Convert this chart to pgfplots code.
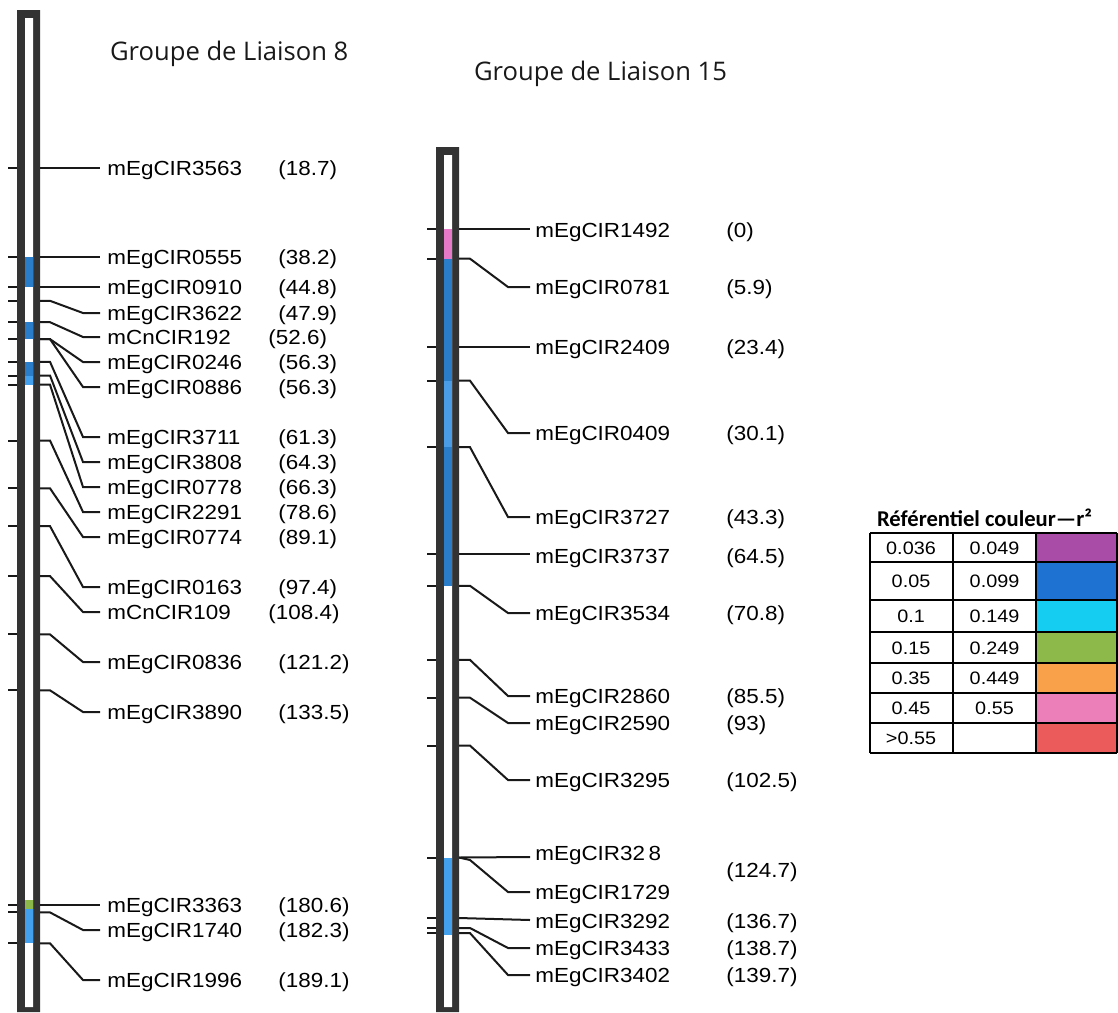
\documentclass[border=0pt]{standalone}
\usepackage{pgfplots}
\pgfplotsset{compat=1.18}
\usepackage{fontspec}
\setmainfont{Liberation Sans}
\newfontfamily\lab[FakeStretch=1.1]{Liberation Sans}
\newfontfamily\ttl{Open Sans}
\newfontfamily\leg{Carlito}
\definecolor{chrom}{HTML}{333333}
\definecolor{dblue}{HTML}{2A7DC8}
\definecolor{lblue}{HTML}{42A0EC}
\definecolor{mblue}{HTML}{4A9CE6}
\definecolor{cgreen}{HTML}{8DB84A}
\definecolor{cpink}{HTML}{E77AC8}
\definecolor{lpurple}{HTML}{A84CA8}
\definecolor{lblue2}{HTML}{1E73D2}
\definecolor{lcyan}{HTML}{14CDF0}
\definecolor{lgreen}{HTML}{8DB84A}
\definecolor{lorange}{HTML}{F9A04A}
\definecolor{lpink}{HTML}{EC7FBA}
\definecolor{lred}{HTML}{EB5B5B}
\pgfplotsset{mk/.style={black!90, line width=1pt}, gl/.style={black, line width=0.8pt}}
\newcommand{\mlab}{\lab\fontsize{10.2}{11}\selectfont}
\newcommand{\clab}{\lab\fontsize{9}{10}\selectfont}
\begin{document}
\begin{tikzpicture}
\begin{axis}[width=559pt, height=506pt, scale only axis, xmin=0, xmax=1118, ymin=0, ymax=1012, y dir=reverse, hide axis, clip=false]
\addplot[draw=none] coordinates {(0,0) (1118,1012)};
% ---------- chromosome LG8 ----------
\addplot[fill=chrom, draw=none] coordinates {(17,10) (40,10) (40,1012) (17,1012) (17,10)};
\addplot[fill=white, draw=none] coordinates {(25,18) (33,18) (33,1007) (25,1007) (25,18)};
\addplot[fill=dblue, draw=none] coordinates {(25,256.7) (33,256.7) (33,286.7) (25,286.7)};
\addplot[fill=dblue, draw=none] coordinates {(25,322.2) (33,322.2) (33,339.1) (25,339.1)};
\addplot[fill=dblue, draw=none] coordinates {(25,361.8) (33,361.8) (33,375.5) (25,375.5)};
\addplot[fill=lblue, draw=none] coordinates {(25,375.5) (33,375.5) (33,384.6) (25,384.6)};
\addplot[fill=cgreen, draw=none] coordinates {(25,900) (33,900) (33,909) (25,909)};
\addplot[fill=lblue, draw=none] coordinates {(25,909) (33,909) (33,943.3) (25,943.3)};
% ---------- chromosome LG15 ----------
\addplot[fill=chrom, draw=none] coordinates {(436,147) (459,147) (459,1012) (436,1012) (436,147)};
\addplot[fill=white, draw=none] coordinates {(444,155) (452,155) (452,1007) (444,1007) (444,155)};
\addplot[fill=cpink, draw=none] coordinates {(444,229) (452,229) (452,258.7) (444,258.7)};
\addplot[fill=dblue, draw=none] coordinates {(444,258.7) (452,258.7) (452,380.7) (444,380.7)};
\addplot[fill=mblue, draw=none] coordinates {(444,380.7) (452,380.7) (452,447.2) (444,447.2)};
\addplot[fill=dblue, draw=none] coordinates {(444,447.2) (452,447.2) (452,585.8) (444,585.8)};
\addplot[fill=lblue, draw=none] coordinates {(444,857.5) (452,857.5) (452,935) (444,935)};
% ---------- LG8 left ticks ----------
\addplot[mk] coordinates {(8,168.0) (17,168.0)};
\addplot[mk] coordinates {(8,256.7) (17,256.7)};
\addplot[mk] coordinates {(8,286.7) (17,286.7)};
\addplot[mk] coordinates {(8,300.8) (17,300.8)};
\addplot[mk] coordinates {(8,322.2) (17,322.2)};
\addplot[mk] coordinates {(8,339.1) (17,339.1)};
\addplot[mk] coordinates {(8,361.8) (17,361.8)};
\addplot[mk] coordinates {(8,375.5) (17,375.5)};
\addplot[mk] coordinates {(8,384.6) (17,384.6)};
\addplot[mk] coordinates {(8,440.5) (17,440.5)};
\addplot[mk] coordinates {(8,488.3) (17,488.3)};
\addplot[mk] coordinates {(8,526.1) (17,526.1)};
\addplot[mk] coordinates {(8,576.1) (17,576.1)};
\addplot[mk] coordinates {(8,634.4) (17,634.4)};
\addplot[mk] coordinates {(8,690.3) (17,690.3)};
\addplot[mk] coordinates {(8,904.6) (17,904.6)};
\addplot[mk] coordinates {(8,912.4) (17,912.4)};
\addplot[mk] coordinates {(8,943.3) (17,943.3)};
% ---------- LG8 connectors ----------
\addplot[mk] coordinates {(40,168.0) (100,168.0)};
\addplot[mk] coordinates {(40,256.7) (100,256.7)};
\addplot[mk] coordinates {(40,286.7) (100,286.7)};
\addplot[mk] coordinates {(40,300.8) (50,300.8) (83,313) (100,313)};
\addplot[mk] coordinates {(40,322.2) (50,322.2) (83,337) (100,337)};
\addplot[mk] coordinates {(40,339.1) (50,339.1) (83,362) (100,362)};
\addplot[mk] coordinates {(40,339.1) (50,339.1) (83,387) (100,387)};
\addplot[mk] coordinates {(40,361.8) (50,361.8) (83,437) (100,437)};
\addplot[mk] coordinates {(40,375.5) (50,375.5) (83,462) (100,462)};
\addplot[mk] coordinates {(40,384.6) (50,384.6) (83,487) (100,487)};
\addplot[mk] coordinates {(40,440.5) (50,440.5) (83,512) (100,512)};
\addplot[mk] coordinates {(40,488.3) (50,488.3) (83,537) (100,537)};
\addplot[mk] coordinates {(40,526.1) (50,526.1) (83,587) (100,587)};
\addplot[mk] coordinates {(40,576.1) (50,576.1) (83,612) (100,612)};
\addplot[mk] coordinates {(40,634.4) (50,634.4) (83,662) (100,662)};
\addplot[mk] coordinates {(40,690.3) (50,690.3) (83,712) (100,712)};
\addplot[mk] coordinates {(40,904.6) (100,904.6)};
\addplot[mk] coordinates {(40,912.4) (50,912.4) (83,930) (100,930)};
\addplot[mk] coordinates {(40,943.3) (50,943.3) (83,980) (100,980)};
% ---------- LG15 left ticks ----------
\addplot[mk] coordinates {(427,229.0) (436,229.0)};
\addplot[mk] coordinates {(427,258.7) (436,258.7)};
\addplot[mk] coordinates {(427,346.9) (436,346.9)};
\addplot[mk] coordinates {(427,380.7) (436,380.7)};
\addplot[mk] coordinates {(427,447.2) (436,447.2)};
\addplot[mk] coordinates {(427,554.1) (436,554.1)};
\addplot[mk] coordinates {(427,585.8) (436,585.8)};
\addplot[mk] coordinates {(427,659.9) (436,659.9)};
\addplot[mk] coordinates {(427,697.7) (436,697.7)};
\addplot[mk] coordinates {(427,745.6) (436,745.6)};
\addplot[mk] coordinates {(427,857.5) (436,857.5)};
\addplot[mk] coordinates {(427,918.0) (436,918.0)};
\addplot[mk] coordinates {(427,928.0) (436,928.0)};
\addplot[mk] coordinates {(427,933.1) (436,933.1)};
% ---------- LG15 connectors ----------
\addplot[mk] coordinates {(459,229.0) (530,229.0)};
\addplot[mk] coordinates {(459,258.7) (470,258.7) (508,287) (530,287)};
\addplot[mk] coordinates {(459,346.9) (530,346.9)};
\addplot[mk] coordinates {(459,380.7) (470,380.7) (508,433) (530,433)};
\addplot[mk] coordinates {(459,447.2) (470,447.2) (508,517) (530,517)};
\addplot[mk] coordinates {(459,554.1) (530,554.1)};
\addplot[mk] coordinates {(459,585.8) (470,585.8) (508,613) (530,613)};
\addplot[mk] coordinates {(459,659.9) (470,659.9) (508,696) (530,696)};
\addplot[mk] coordinates {(459,697.7) (470,697.7) (508,723) (530,723)};
\addplot[mk] coordinates {(459,745.6) (470,745.6) (508,780) (530,780)};
\addplot[mk] coordinates {(459,857.5) (530,857)};
\addplot[mk] coordinates {(459,857.5) (470,860) (508,892) (530,892)};
\addplot[mk] coordinates {(459,918.0) (530,920)};
\addplot[mk] coordinates {(459,928.0) (470,928.0) (508,948) (530,948)};
\addplot[mk] coordinates {(459,933.1) (470,933.1) (508,975) (530,975)};
% ---------- legend table ----------
\addplot[fill=lpurple, draw=none] coordinates {(1036,533) (1117,533) (1117,562) (1036,562)};
\addplot[fill=lblue2, draw=none] coordinates {(1036,562) (1117,562) (1117,600) (1036,600)};
\addplot[fill=lcyan, draw=none] coordinates {(1036,600) (1117,600) (1117,632) (1036,632)};
\addplot[fill=lgreen, draw=none] coordinates {(1036,632) (1117,632) (1117,663) (1036,663)};
\addplot[fill=lorange, draw=none] coordinates {(1036,663) (1117,663) (1117,693) (1036,693)};
\addplot[fill=lpink, draw=none] coordinates {(1036,693) (1117,693) (1117,723) (1036,723)};
\addplot[fill=lred, draw=none] coordinates {(1036,723) (1117,723) (1117,753) (1036,753)};
\addplot[gl] coordinates {(870,533) (1117,533)};
\addplot[gl] coordinates {(870,562) (1117,562)};
\addplot[gl] coordinates {(870,600) (1117,600)};
\addplot[gl] coordinates {(870,632) (1117,632)};
\addplot[gl] coordinates {(870,663) (1117,663)};
\addplot[gl] coordinates {(870,693) (1117,693)};
\addplot[gl] coordinates {(870,723) (1117,723)};
\addplot[gl] coordinates {(870,753) (1117,753)};
\addplot[gl] coordinates {(870,533) (870,753)};
\addplot[gl] coordinates {(953,533) (953,753)};
\addplot[gl] coordinates {(1036,533) (1036,753)};
\addplot[gl] coordinates {(1117,533) (1117,753)};
% ---------- texts ----------
\node[anchor=base west, font=\ttl\fontsize{12.8}{14}\selectfont, text=black!90] at (axis cs:103,60) {Groupe de Liaison 8};
\node[anchor=base west, font=\ttl\fontsize{12.8}{14}\selectfont, text=black!90] at (axis cs:467,80) {Groupe de Liaison 15};
\node[anchor=base west, font=\leg\bfseries\fontsize{11.3}{12}\selectfont] at (axis cs:870,526) {Référentiel couleur—r²};
% LG8 names
\begin{scope}[every node/.style={anchor=base west, font=\mlab, inner sep=0pt}]
\node at (axis cs:107,175) {mEgCIR3563};
\node at (axis cs:107,264) {mEgCIR0555};
\node at (axis cs:107,294) {mEgCIR0910};
\node at (axis cs:107,320) {mEgCIR3622};
\node at (axis cs:107,344) {mCnCIR192};
\node at (axis cs:107,369) {mEgCIR0246};
\node at (axis cs:107,394) {mEgCIR0886};
\node at (axis cs:107,444) {mEgCIR3711};
\node at (axis cs:107,469) {mEgCIR3808};
\node at (axis cs:107,494) {mEgCIR0778};
\node at (axis cs:107,519) {mEgCIR2291};
\node at (axis cs:107,544) {mEgCIR0774};
\node at (axis cs:107,594) {mEgCIR0163};
\node at (axis cs:107,619) {mCnCIR109};
\node at (axis cs:107,669) {mEgCIR0836};
\node at (axis cs:107,719) {mEgCIR3890};
\node at (axis cs:107,912) {mEgCIR3363};
\node at (axis cs:107,937) {mEgCIR1740};
\node at (axis cs:107,987) {mEgCIR1996};
% LG8 values
\node at (axis cs:278,175) {(18.7)};
\node at (axis cs:278,264) {(38.2)};
\node at (axis cs:278,294) {(44.8)};
\node at (axis cs:278,320) {(47.9)};
\node at (axis cs:268,344) {(52.6)};
\node at (axis cs:278,369) {(56.3)};
\node at (axis cs:278,394) {(56.3)};
\node at (axis cs:278,444) {(61.3)};
\node at (axis cs:278,469) {(64.3)};
\node at (axis cs:278,494) {(66.3)};
\node at (axis cs:278,519) {(78.6)};
\node at (axis cs:278,544) {(89.1)};
\node at (axis cs:278,594) {(97.4)};
\node at (axis cs:268,619) {(108.4)};
\node at (axis cs:278,669) {(121.2)};
\node at (axis cs:278,719) {(133.5)};
\node at (axis cs:278,912) {(180.6)};
\node at (axis cs:278,937) {(182.3)};
\node at (axis cs:278,987) {(189.1)};
% LG15 names
\node at (axis cs:535,237) {mEgCIR1492};
\node at (axis cs:535,294) {mEgCIR0781};
\node at (axis cs:535,354) {mEgCIR2409};
\node at (axis cs:535,440) {mEgCIR0409};
\node at (axis cs:535,524) {mEgCIR3727};
\node at (axis cs:535,563) {mEgCIR3737};
\node at (axis cs:535,620) {mEgCIR3534};
\node at (axis cs:535,703) {mEgCIR2860};
\node at (axis cs:535,730) {mEgCIR2590};
\node at (axis cs:535,787) {mEgCIR3295};
\node at (axis cs:535,860) {mEgCIR32\,8};
\node at (axis cs:535,899) {mEgCIR1729};
\node at (axis cs:535,928) {mEgCIR3292};
\node at (axis cs:535,955) {mEgCIR3433};
\node at (axis cs:535,982) {mEgCIR3402};
% LG15 values
\node at (axis cs:726,237) {(0)};
\node at (axis cs:726,294) {(5.9)};
\node at (axis cs:726,354) {(23.4)};
\node at (axis cs:726,440) {(30.1)};
\node at (axis cs:726,524) {(43.3)};
\node at (axis cs:726,563) {(64.5)};
\node at (axis cs:726,620) {(70.8)};
\node at (axis cs:726,703) {(85.5)};
\node at (axis cs:726,730) {(93)};
\node at (axis cs:726,787) {(102.5)};
\node at (axis cs:726,877) {(124.7)};
\node at (axis cs:726,928) {(136.7)};
\node at (axis cs:726,955) {(138.7)};
\node at (axis cs:726,982) {(139.7)};
\end{scope}
% legend cell texts
\begin{scope}[every node/.style={anchor=base, font=\clab, inner sep=0pt}]
\node at (axis cs:911,554) {0.036};
\node at (axis cs:994.5,554) {0.049};
\node at (axis cs:911,587.5) {0.05};
\node at (axis cs:994.5,587.5) {0.099};
\node at (axis cs:911,622.5) {0.1};
\node at (axis cs:994.5,622.5) {0.149};
\node at (axis cs:911,654) {0.15};
\node at (axis cs:994.5,654) {0.249};
\node at (axis cs:911,684.5) {0.35};
\node at (axis cs:994.5,684.5) {0.449};
\node at (axis cs:911,714.5) {0.45};
\node at (axis cs:994.5,714.5) {0.55};
\node at (axis cs:911,744.5) {>0.55};
\end{scope}
\end{axis}
\end{tikzpicture}
\end{document}
